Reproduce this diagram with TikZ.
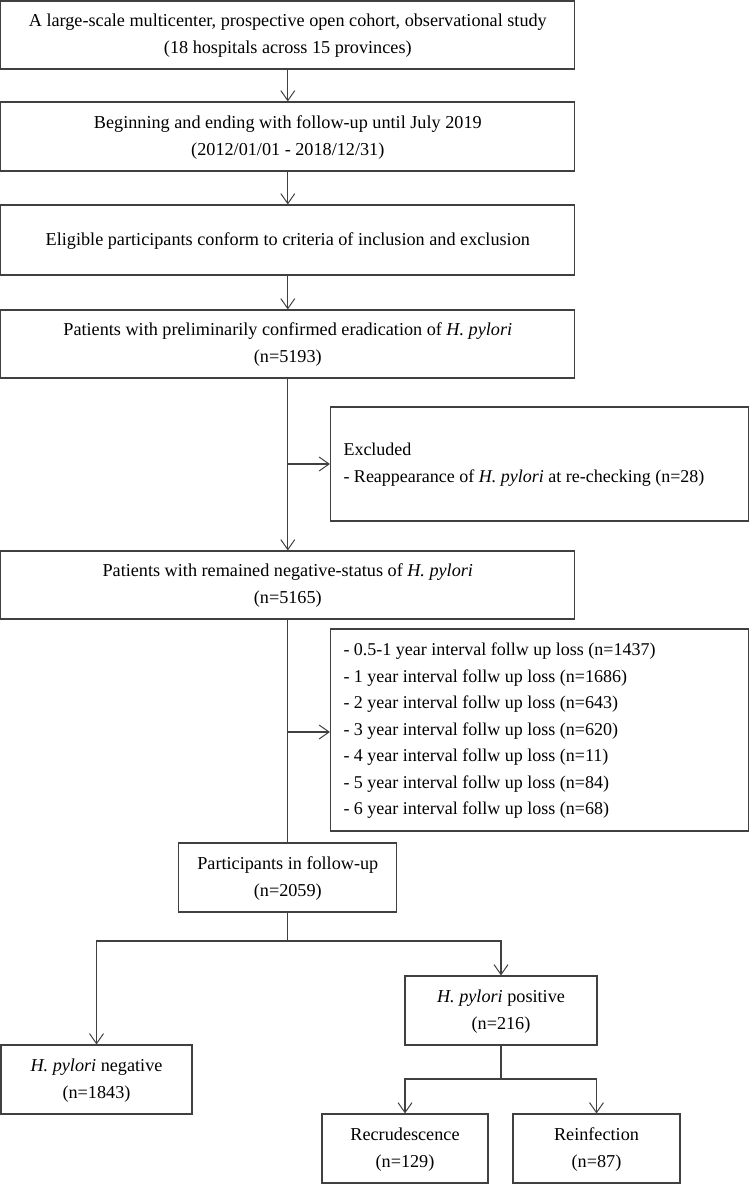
\documentclass[tikz,border=0pt]{standalone}
\usepackage{fontspec}
\setmainfont{Liberation Serif}
\usetikzlibrary{arrows.meta}
\definecolor{ln}{HTML}{404040}
\newcommand{\ctxt}[1]{\raisebox{-2pt}{\begin{tabular}{@{}c@{}}#1\end{tabular}}}
\newcommand{\ltxt}[1]{\makebox[392pt][l]{\raisebox{-2pt}{\begin{tabular}{@{}l@{}}#1\end{tabular}}}}
\begin{document}
\begin{tikzpicture}[x=1pt,y=-1pt,
  box/.style={draw=ln,line width=1.1pt,inner sep=0pt,
    font=\fontsize{18.2}{27}\selectfont},
  sidebox/.style={box,font=\fontsize{18}{27}\selectfont},
  arr/.style={draw=ln,line width=1.1pt,-{Straight Barb[length=10pt,width=14pt,line width=1pt]}},
  con/.style={draw=ln,line width=1.1pt}]
\useasboundingbox (0,0) rectangle (750,1184);
\node[box,minimum width=574pt,minimum height=68pt] (b1) at (287.8,35)
  {\ctxt{A large-scale multicenter, prospective open cohort, observational study\\(18 hospitals across 15 provinces)}};
\node[box,minimum width=574pt,minimum height=69pt] (b2) at (287.8,136.5)
  {\ctxt{Beginning and ending with follow-up until July 2019\\(2012/01/01 - 2018/12/31)}};
\node[box,minimum width=574pt,minimum height=70pt] (b3) at (287.8,240)
  {\ctxt{Eligible participants conform to criteria of inclusion and exclusion}};
\node[box,minimum width=574pt,minimum height=68pt] (b4) at (287.8,344)
  {\ctxt{Patients with preliminarily confirmed eradication of \textit{H. pylori}\\(n=5193)}};
\node[sidebox,minimum width=418pt,minimum height=114pt] (ex) at (539.5,464)
  {\ltxt{Excluded\\- Reappearance of \textit{H. pylori} at re-checking (n=28)}};
\node[box,minimum width=574pt,minimum height=68pt] (b5) at (287.8,585)
  {\ctxt{Patients with remained negative-status of \textit{H. pylori}\\(n=5165)}};
\node[sidebox,minimum width=418pt,minimum height=202pt,
  font=\fontsize{18}{26.5}\selectfont] (loss) at (539.5,730)
  {\ltxt{- 0.5-1 year interval follw up loss (n=1437)\\
   - 1 year interval follw up loss (n=1686)\\
   - 2 year interval follw up loss (n=643)\\
   - 3 year interval follw up loss (n=620)\\
   - 4 year interval follw up loss (n=11)\\
   - 5 year interval follw up loss (n=84)\\
   - 6 year interval follw up loss (n=68)}};
\node[box,minimum width=218pt,minimum height=69pt] (b6) at (287.8,877.5)
  {\ctxt{Participants in follow-up\\(n=2059)}};
\node[box,minimum width=191pt,minimum height=69pt] (neg) at (96.5,1079.5)
  {\ctxt{\textit{H. pylori} negative\\(n=1843)}};
\node[box,minimum width=192pt,minimum height=69pt] (pos) at (501,1010.5)
  {\ctxt{\textit{H. pylori} positive\\(n=216)}};
\node[box,minimum width=166pt,minimum height=69pt] (rec) at (405,1148.5)
  {\ctxt{Recrudescence\\(n=129)}};
\node[box,minimum width=167pt,minimum height=69pt] (rei) at (596.5,1148.5)
  {\ctxt{Reinfection\\(n=87)}};
\draw[arr] (b1) -- (b2);
\draw[arr] (b2) -- (b3);
\draw[arr] (b3) -- (b4);
\draw[arr] (b4) -- (b5);
\coordinate (j1) at (287.8,464);
\draw[arr] (j1) -- (ex);
\draw[con] (b5) -- (b6);
\coordinate (j2) at (287.8,732);
\draw[arr] (j2) -- (j2 -| loss.west);
\coordinate (j3) at (287.8,941);
\draw[con] (b6) -- (j3);
\draw[arr] (j3) -| (neg);
\draw[arr] (j3) -| (pos);
\coordinate (j4) at (501,1079);
\draw[con] (pos) -- (j4);
\draw[arr] (j4) -| (rec);
\draw[arr] (j4) -| (rei);
\end{tikzpicture}
\end{document}
